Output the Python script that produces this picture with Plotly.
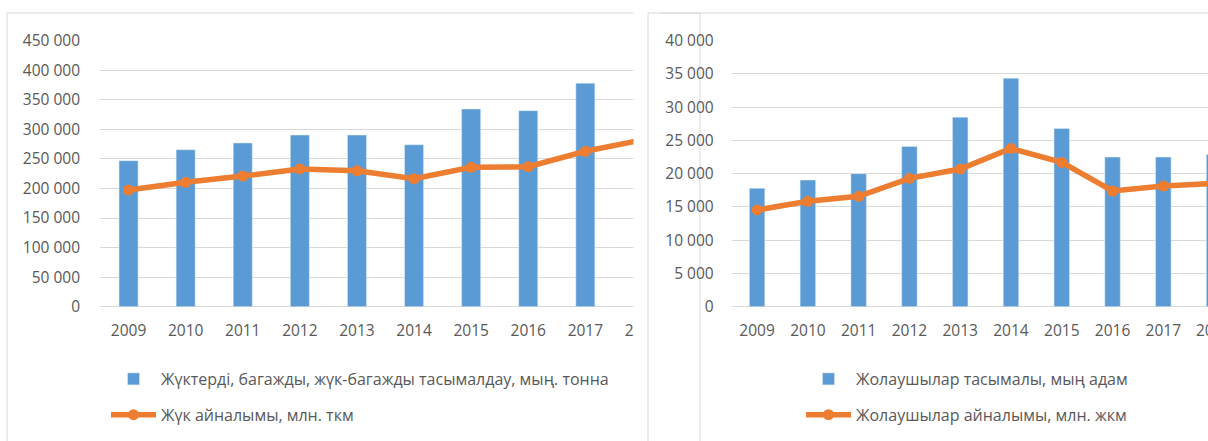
import plotly.graph_objects as go

# ---------------- data ----------------
years = ["2009", "2010", "2011", "2012", "2013", "2014", "2015", "2016", "2017", "2018"]

cargo_tonnes = [247000, 265600, 277000, 290400, 290400, 274000, 334400, 331600, 378000, None]
cargo_tkm = [197400, 210400, 221000, 233000, 230000, 216500, 235800, 236800, 262900, 282300]

passengers = [17800, 19050, 20000, 24100, 28500, 34350, 26800, 22500, 22500, 22900]
passenger_pkm = [14550, 15850, 16600, 19300, 20700, 23800, 21700, 17400, 18150, 18550]

name_cargo_bar = "Жүктерді, багажды, жүк-багажды тасымалдау, мың. тонна"
name_cargo_line = "Жүк айналымы, млн. ткм"
name_pass_bar = "Жолаушылар тасымалы, мың адам"
name_pass_line = "Жолаушылар айналымы, млн. жкм"

# ---------------- style ----------------
W, H = 1208, 441
BLUE = "#5B9BD5"
ORANGE = "#ED7D31"
GRID = "#D9D9D9"
TEXT = "#595959"
FONT = "Open Sans"
FS = 15.5
LFS = 16

def px(x):
    return x / W

def py(y):
    return 1 - y / H

ydom = [py(306.7), py(40.7)]
x1dom = [px(100), px(647)]
x1rng = [-0.5, -0.5 + (647 - 100) / 57.1]
x2dom = [px(731.7), 1.0]
x2rng = [-0.5, 8.88]

fig = go.Figure()

fig.add_trace(go.Bar(x=years, y=cargo_tonnes, name=name_cargo_bar, marker_color=BLUE,
                     width=0.333, xaxis="x", yaxis="y", legend="legend", legendgroup="a"))
fig.add_trace(go.Scatter(x=years, y=cargo_tkm, name=name_cargo_line, mode="lines+markers",
                         line=dict(color=ORANGE, width=5.5), marker=dict(color=ORANGE, size=11),
                         xaxis="x", yaxis="y", legend="legend", legendgroup="b"))
fig.add_trace(go.Bar(x=years, y=passengers, name=name_pass_bar, marker_color=BLUE,
                     width=0.305, xaxis="x2", yaxis="y2", legend="legend2", legendgroup="c"))
fig.add_trace(go.Scatter(x=years, y=passenger_pkm, name=name_pass_line, mode="lines+markers",
                         line=dict(color=ORANGE, width=5.5), marker=dict(color=ORANGE, size=11),
                         xaxis="x2", yaxis="y2", legend="legend2", legendgroup="d"))

axis_font = dict(family=FONT, size=FS, color=TEXT)

fig.update_layout(
    width=W, height=H,
    margin=dict(l=0, r=0, t=0, b=0, autoexpand=False),
    paper_bgcolor="white", plot_bgcolor="white",
    separators=". ",
    font=dict(family=FONT, size=FS, color=TEXT),
    xaxis=dict(domain=x1dom, range=x1rng, type="category", showgrid=False, showline=False,
               zeroline=False, ticks="", tickfont=axis_font, ticklabelstandoff=13, anchor="y"),
    yaxis=dict(domain=ydom, range=[0, 450000], dtick=50000, tickformat=",d", gridcolor=GRID,
               gridwidth=1, zeroline=True, zerolinecolor=GRID, zerolinewidth=1, showline=False,
               ticks="", tickfont=axis_font, ticklabelstandoff=19, anchor="x"),
    xaxis2=dict(domain=x2dom, range=x2rng, type="category", showgrid=False, showline=False,
                zeroline=False, ticks="", tickfont=axis_font, ticklabelstandoff=13, anchor="y2"),
    yaxis2=dict(domain=ydom, range=[0, 40000], dtick=5000, tickformat=",d", gridcolor=GRID,
                gridwidth=1, zeroline=True, zerolinecolor=GRID, zerolinewidth=1, showline=False,
                ticks="", tickfont=axis_font, ticklabelstandoff=17, anchor="x2"),
    legend=dict(x=px(106), y=py(362), xanchor="left", yanchor="top", orientation="v",
                traceorder="grouped", tracegroupgap=12, itemwidth=45,
                font=dict(family=FONT, size=LFS, color=TEXT), bgcolor="rgba(0,0,0,0)"),
    legend2=dict(x=px(801), y=py(362), xanchor="left", yanchor="top", orientation="v",
                 traceorder="grouped", tracegroupgap=12, itemwidth=45,
                 font=dict(family=FONT, size=LFS, color=TEXT), bgcolor="rgba(0,0,0,0)"),
    showlegend=True,
)

# label of the cut-off last category on the right chart (outside the visible range)
x_last = x2dom[0] + (9 - x2rng[0]) / (x2rng[1] - x2rng[0]) * (x2dom[1] - x2dom[0])
fig.add_annotation(x=x_last, y=py(330), xref="paper", yref="paper", text=years[-1],
                   showarrow=False, xanchor="center", yanchor="middle",
                   font=dict(family=FONT, size=FS, color=TEXT))

# chart card frames and the gap between the two cropped charts
fig.add_shape(type="rect", xref="paper", yref="paper", x0=px(7), x1=px(700), y0=py(460), y1=py(13),
              line=dict(color=GRID, width=1), fillcolor="rgba(0,0,0,0)", layer="below")
fig.add_shape(type="rect", xref="paper", yref="paper", x0=px(633.5), x1=px(661), y0=py(460), y1=py(0),
              line=dict(width=0), fillcolor="white", layer="above")
fig.add_shape(type="rect", xref="paper", yref="paper", x0=px(648), x1=px(1230), y0=py(460), y1=py(13),
              line=dict(color=GRID, width=1), fillcolor="rgba(0,0,0,0)", layer="above")

fig.write_html("out.html", config={"displayModeBar": False},
               post_script="document.body.style.margin='0px';")
